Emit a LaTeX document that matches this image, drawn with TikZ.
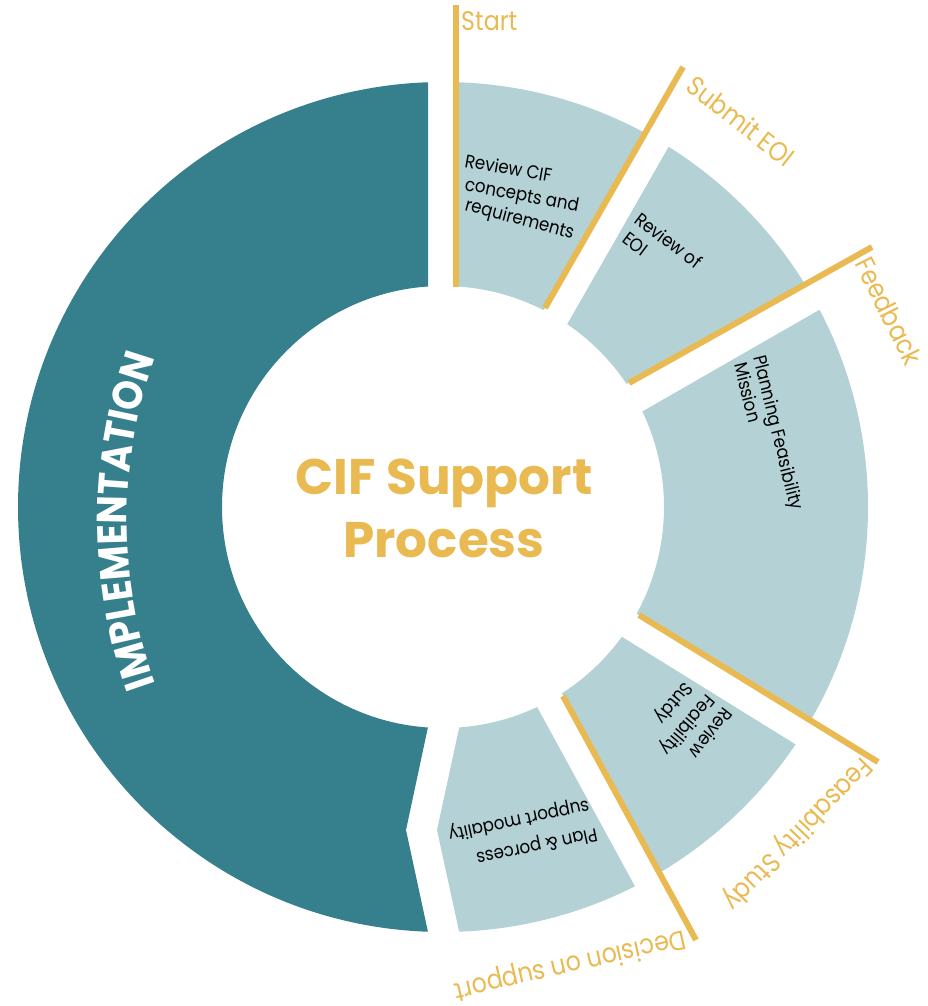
\documentclass[tikz,border=0pt]{standalone}
\usepackage{fontspec}
\setmainfont{Poppins}
\newfontfamily\lblfont[FakeStretch=0.88]{Poppins}
\newfontfamily\inlblfont[FakeStretch=0.9]{Poppins}
\newfontfamily\ttlfont{Poppins}
\newfontfamily\implfont[FakeStretch=0.9]{Poppins}
\usetikzlibrary{decorations.text}
\definecolor{cteal}{HTML}{35808C}
\definecolor{clight}{HTML}{B4D1D6}
\definecolor{cgold}{HTML}{E9BA52}
\tikzset{
  ring/.style={even odd rule},
  goldline/.style={draw=cgold, line width=6pt, line cap=butt},
  lbl/.style={text=cgold, inner sep=0pt, font=\lblfont\fontsize{27}{30}\selectfont},
  inlbl/.style={text=black, inner sep=0pt, anchor=base west, font=\inlblfont\fontsize{18.5}{21}\selectfont},
  ttl/.style={text=cgold, inner sep=0pt, align=center, font=\ttlfont\bfseries\fontsize{50}{63}\selectfont}
}
\begin{document}
\begin{tikzpicture}[x=1pt,y=-1pt]
\useasboundingbox (0,0) rectangle (927,1006);
\coordinate (C) at (443,507);
% Implementation
\begin{scope}
\clip (428,-20) -- (428,727) -- (406,830) -- (428,932) -- (428,1030) -- (-20,1030) -- (-20,-20) -- cycle;
\fill[cteal, ring] (C) circle[radius=425] (C) circle[radius=221];
\end{scope}
% Segment 1
\begin{scope}
\clip (456,463) -- (456,-80) -- (766,-78) -- cycle;
\fill[clight, ring] (C) circle[radius=425] (C) circle[radius=221];
\end{scope}
% Segment 2
\begin{scope}
\clip (489,461) -- (768,-27) -- (1066,138) -- cycle;
\fill[clight, ring] (C) circle[radius=425] (C) circle[radius=221];
\end{scope}
% Segment 3
\begin{scope}
\clip (469,511) -- (995,209) -- (1117,909) -- cycle;
\fill[clight, ring] (C) circle[radius=425] (C) circle[radius=221];
\end{scope}
% Segment 4
\begin{scope}
\clip (485,552) -- (1142,959) -- (829,1184) -- cycle;
\fill[clight, ring] (C) circle[radius=425] (C) circle[radius=221];
\end{scope}
% Segment 5
\begin{scope}
\clip (476,650) -- (437,830) -- (474,1000) -- (697,1000) -- (506,650) -- cycle;
\fill[clight, ring] (C) circle[radius=425] (C) circle[radius=221];
\end{scope}
% gold lines
\coordinate (g1a) at (456,5);   \coordinate (g1b) at (456,287);
\coordinate (g2a) at (683,67);  \coordinate (g2b) at (545,308);
\coordinate (g3a) at (872,247); \coordinate (g3b) at (629,383);
\coordinate (g4a) at (878,762); \coordinate (g4b) at (639,615);
\coordinate (g5a) at (696,940); \coordinate (g5b) at (563,696);
\draw[goldline] (g1a) -- (g1b);
\draw[goldline] (g2a) -- (g2b);
\draw[goldline] (g3a) -- (g3b);
\draw[goldline] (g4a) -- (g4b);
\draw[goldline] (g5a) -- (g5b);
% gold labels
\node[lbl, anchor=base west] (start) at (461,31) {Start};
\node[lbl, rotate=-38] (submit) at (741,121) {Submit EOI};
\node[lbl, rotate=-63.5] (feedback) at (889,311) {Feedback};
\node[lbl, rotate=-134] (feas) at (797,833) {Feasability Study};
\node[lbl, rotate=-167] (decision) at (570,964) {Decision on support};
% inner labels
\node[inlbl, rotate=-10] (s1a) at (464,167) {Review CIF};
\node[inlbl, rotate=-11] (s1b) at (464,190) {concepts and};
\node[inlbl, rotate=-15] (s1c) at (464,210) {requirements};
\node[inlbl, rotate=-37] (s2a) at (633,222) {Review of};
\node[inlbl, rotate=-37] (s2b) at (621,241) {EOI};
\node[inlbl, rotate=-76] (s3a) at (753,357) {Planning Feasibility};
\node[inlbl, rotate=-76] (s3b) at (734,364) {Mission};
\node[inlbl, rotate=-128] (s4a) at (724,706) {Review};
\node[inlbl, rotate=-130] (s4b) at (707,693) {Feaibility};
\node[inlbl, rotate=-130] (s4c) at (685,681) {Sutdy};
\node[inlbl, rotate=-168] (s5a) at (596,828) {Plan \& porcess};
\node[inlbl, rotate=-168] (s5b) at (588,800) {support modality};
% title
\node[ttl] (title) at (444,508) {CIF Support\\Process};
% implementation text
\path[decorate, decoration={text along path, text align=center,
  text={|\color{white}\implfont\bfseries\fontsize{42}{42}\selectfont|IMPLEMENTATION}}]
  (617,521) ++(155:490) arc[start angle=155, end angle=205, radius=490];
\end{tikzpicture}
\end{document}
